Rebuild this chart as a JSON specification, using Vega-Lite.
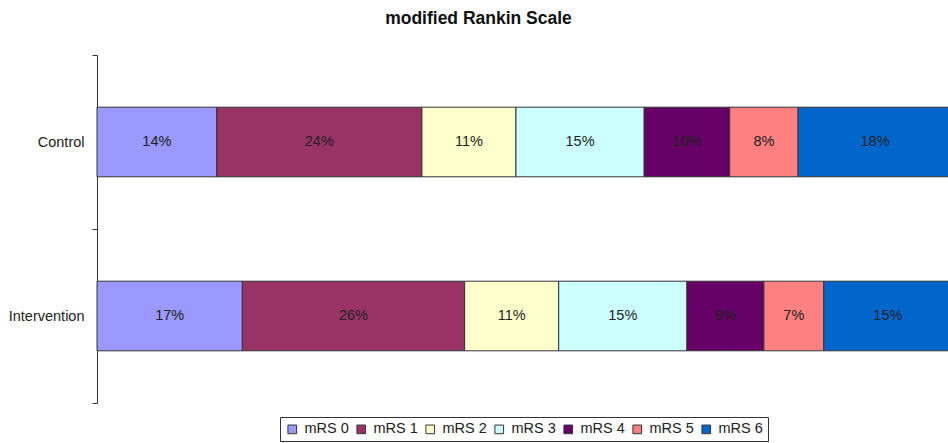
{
  "$schema": "https://vega.github.io/schema/vega-lite/v6.json",
  "width": 855,
  "height": 348,
  "autosize": {"type": "none"},
  "padding": {"left": 97, "top": 55, "right": 0, "bottom": 40},
  "title": {
    "text": "modified Rankin Scale",
    "fontSize": 17.5,
    "fontWeight": "bold",
    "color": "#111",
    "anchor": "middle",
    "baseline": "alphabetic",
    "offset": 6,
    "dx": -46
  },
  "data": {
    "values": [
      {"group": "Control", "cat": "mRS 0", "k": 0, "pct": 0.14},
      {"group": "Control", "cat": "mRS 1", "k": 1, "pct": 0.24},
      {"group": "Control", "cat": "mRS 2", "k": 2, "pct": 0.11},
      {"group": "Control", "cat": "mRS 3", "k": 3, "pct": 0.15},
      {"group": "Control", "cat": "mRS 4", "k": 4, "pct": 0.10},
      {"group": "Control", "cat": "mRS 5", "k": 5, "pct": 0.08},
      {"group": "Control", "cat": "mRS 6", "k": 6, "pct": 0.18},
      {"group": "Intervention", "cat": "mRS 0", "k": 0, "pct": 0.17},
      {"group": "Intervention", "cat": "mRS 1", "k": 1, "pct": 0.26},
      {"group": "Intervention", "cat": "mRS 2", "k": 2, "pct": 0.11},
      {"group": "Intervention", "cat": "mRS 3", "k": 3, "pct": 0.15},
      {"group": "Intervention", "cat": "mRS 4", "k": 4, "pct": 0.09},
      {"group": "Intervention", "cat": "mRS 5", "k": 5, "pct": 0.07},
      {"group": "Intervention", "cat": "mRS 6", "k": 6, "pct": 0.15}
    ]
  },
  "transform": [
    {"stack": "pct", "groupby": ["group"], "sort": [{"field": "k", "order": "ascending"}], "as": ["x0", "x1"]}
  ],
  "encoding": {
    "y": {
      "field": "group",
      "type": "nominal",
      "sort": ["Control", "Intervention"],
      "scale": {"paddingInner": 0, "paddingOuter": 0},
      "axis": {
        "title": null,
        "tickBand": "extent",
        "tickSize": 5,
        "tickColor": "#333",
        "domainColor": "#333",
        "labelFontSize": 14.5,
        "labelColor": "#222",
        "labelPadding": 8,
        "grid": false
      }
    }
  },
  "layer": [
    {
      "mark": {"type": "bar", "stroke": "#333", "strokeWidth": 1, "height": {"band": 0.4}},
      "encoding": {
        "x": {
          "field": "x0",
          "type": "quantitative",
          "scale": {"domain": [0, 1], "nice": false},
          "axis": null
        },
        "x2": {"field": "x1"},
        "color": {
          "field": "cat",
          "type": "nominal",
          "scale": {
            "domain": ["mRS 0", "mRS 1", "mRS 2", "mRS 3", "mRS 4", "mRS 5", "mRS 6"],
            "range": ["#9999FF", "#993366", "#FFFFCC", "#CCFFFF", "#660066", "#FF8080", "#0066CC"]
          },
          "legend": {
            "title": null,
            "orient": "none",
            "legendX": 183,
            "legendY": 362,
            "direction": "horizontal",
            "padding": 5,
            "strokeColor": "#333",
            "labelFontSize": 14.5,
            "labelColor": "#222",
            "symbolType": "square",
            "symbolSize": 75,
            "symbolStrokeColor": "#333",
            "symbolStrokeWidth": 1,
            "symbolOpacity": 1,
            "columnPadding": 5,
            "labelOffset": 5
          }
        }
      }
    },
    {
      "transform": [
        {"fold": ["x0", "x1"], "as": ["edge", "pos"]},
        {"aggregate": [{"op": "mean", "field": "pos", "as": "mid"}], "groupby": ["group", "cat", "pct"]}
      ],
      "mark": {"type": "text", "fontSize": 14.5, "color": "#222"},
      "encoding": {
        "x": {"field": "mid", "type": "quantitative", "scale": {"domain": [0, 1], "nice": false}, "axis": null},
        "text": {"field": "pct", "type": "quantitative", "format": ".0%"}
      }
    }
  ],
  "config": {
    "font": "Liberation Sans",
    "view": {"stroke": null}
  }
}
